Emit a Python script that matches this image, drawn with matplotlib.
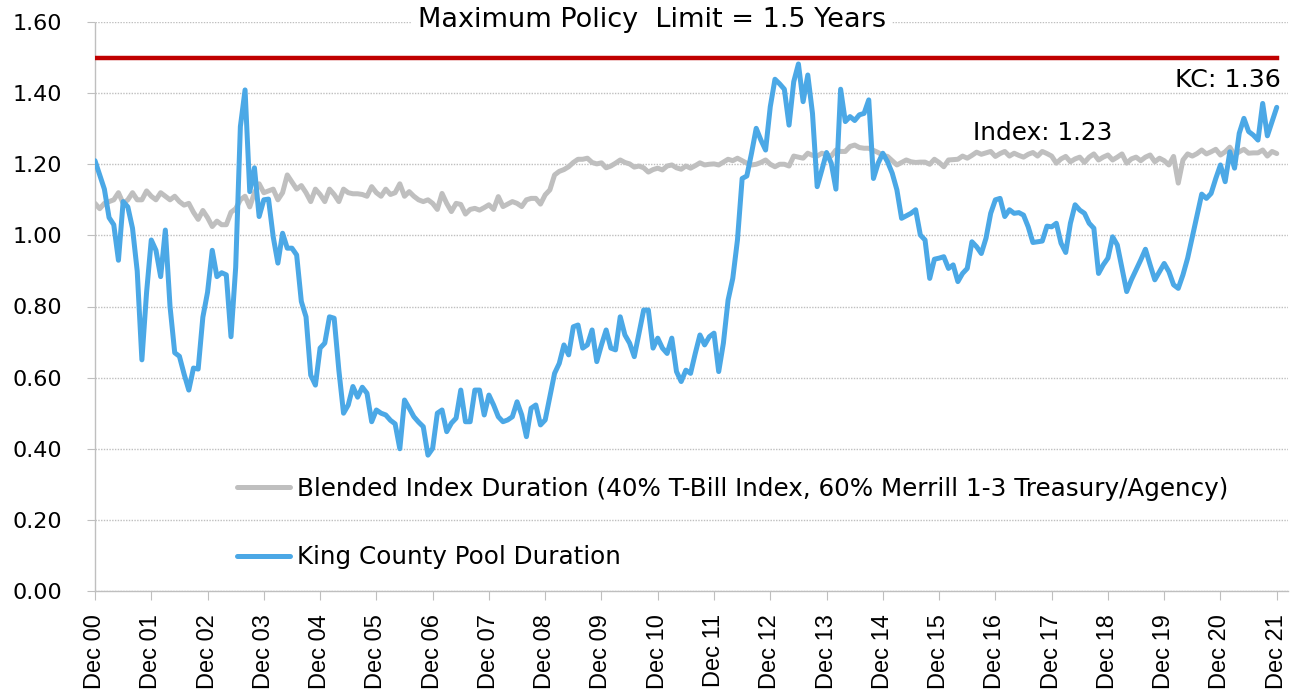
import matplotlib
matplotlib.use("Agg")
import matplotlib.pyplot as plt
import numpy as np

# monthly durations, Dec 2000 .. Dec 2021
kc_pool = [
    1.21, 1.17, 1.13, 1.05, 1.03, 0.93, 1.095, 1.08, 1.02, 0.90, 0.65, 0.84,
    0.987, 0.958, 0.884, 1.015, 0.80, 0.67, 0.66, 0.61, 0.565, 0.627, 0.624, 0.77,
    0.84, 0.958, 0.884, 0.895, 0.889, 0.715, 0.91, 1.306, 1.409, 1.123, 1.19, 1.053,
    1.10, 1.102, 0.996, 0.922, 1.006, 0.964, 0.964, 0.945, 0.814, 0.771, 0.607, 0.579,
    0.683, 0.697, 0.771, 0.767, 0.621, 0.50, 0.523, 0.575, 0.545, 0.573, 0.556, 0.476,
    0.509, 0.50, 0.495, 0.48, 0.47, 0.40, 0.537, 0.514, 0.49, 0.475, 0.462, 0.382,
    0.401, 0.50, 0.509, 0.448, 0.472, 0.486, 0.565, 0.476, 0.476, 0.565, 0.565, 0.495,
    0.551, 0.523, 0.49, 0.476, 0.481, 0.49, 0.532, 0.495, 0.434, 0.514, 0.523, 0.467,
    0.481, 0.546, 0.612, 0.64, 0.692, 0.664, 0.743, 0.748, 0.683, 0.692, 0.734, 0.645,
    0.692, 0.734, 0.683, 0.678, 0.771, 0.72, 0.697, 0.659, 0.725, 0.79, 0.79, 0.683,
    0.711, 0.683, 0.668, 0.711, 0.617, 0.589, 0.621, 0.612, 0.668, 0.72, 0.692, 0.715,
    0.725, 0.617, 0.697, 0.818, 0.879, 0.987, 1.16, 1.167, 1.231, 1.301, 1.268, 1.24,
    1.362, 1.439, 1.426, 1.411, 1.31, 1.432, 1.482, 1.376, 1.451, 1.343, 1.137, 1.184,
    1.233, 1.203, 1.13, 1.411, 1.32, 1.334, 1.323, 1.339, 1.343, 1.381, 1.16, 1.203,
    1.231, 1.207, 1.175, 1.128, 1.048, 1.055, 1.062, 1.072, 1.001, 0.987, 0.879, 0.933,
    0.936, 0.94, 0.907, 0.917, 0.87, 0.893, 0.907, 0.982, 0.968, 0.949, 0.992, 1.062,
    1.10, 1.104, 1.053, 1.072, 1.062, 1.064, 1.057, 1.024, 0.98, 0.982, 0.984, 1.026,
    1.024, 1.034, 0.978, 0.952, 1.034, 1.086, 1.071, 1.062, 1.034, 1.02, 0.893, 0.917,
    0.936, 0.996, 0.973, 0.907, 0.842, 0.875, 0.903, 0.931, 0.961, 0.917, 0.875, 0.898,
    0.921, 0.898, 0.861, 0.851, 0.889, 0.936, 0.996, 1.057, 1.116, 1.104, 1.118, 1.16,
    1.198, 1.151, 1.235, 1.189, 1.287, 1.329, 1.292, 1.282, 1.268, 1.371, 1.28, 1.32,
    1.36,
]

blended_index = [
    1.09, 1.075, 1.09, 1.095, 1.10, 1.12, 1.09, 1.10, 1.12, 1.10, 1.10, 1.125,
    1.11, 1.10, 1.12, 1.11, 1.10, 1.11, 1.095, 1.085, 1.09, 1.065, 1.045, 1.07,
    1.05, 1.025, 1.04, 1.03, 1.03, 1.065, 1.075, 1.10, 1.11, 1.08, 1.12, 1.145,
    1.12, 1.125, 1.13, 1.10, 1.12, 1.17, 1.15, 1.13, 1.14, 1.12, 1.095, 1.13,
    1.115, 1.095, 1.13, 1.115, 1.095, 1.13, 1.12, 1.117, 1.117, 1.115, 1.11, 1.137,
    1.12, 1.11, 1.13, 1.115, 1.12, 1.145, 1.11, 1.123, 1.11, 1.10, 1.095, 1.10,
    1.09, 1.073, 1.118, 1.09, 1.067, 1.09, 1.087, 1.06, 1.073, 1.076, 1.071, 1.078,
    1.086, 1.073, 1.109, 1.081, 1.088, 1.095, 1.09, 1.081, 1.10, 1.104, 1.104, 1.088,
    1.114, 1.128, 1.17, 1.18, 1.185, 1.193, 1.205, 1.214, 1.214, 1.217, 1.205, 1.201,
    1.204, 1.19, 1.195, 1.203, 1.212, 1.205, 1.201, 1.192, 1.195, 1.19, 1.178, 1.185,
    1.189, 1.184, 1.195, 1.198, 1.19, 1.186, 1.195, 1.189, 1.196, 1.204, 1.198, 1.20,
    1.201, 1.198, 1.206, 1.214, 1.21, 1.217, 1.21, 1.203, 1.198, 1.20, 1.205, 1.212,
    1.20, 1.193, 1.20, 1.20, 1.195, 1.223, 1.22, 1.217, 1.231, 1.225, 1.223, 1.231,
    1.226, 1.223, 1.24, 1.236, 1.236, 1.25, 1.254, 1.247, 1.245, 1.245, 1.239, 1.233,
    1.225, 1.222, 1.21, 1.198, 1.205, 1.212, 1.207, 1.205, 1.206, 1.206, 1.20, 1.214,
    1.205, 1.193, 1.212, 1.213, 1.214, 1.223, 1.217, 1.225, 1.234, 1.228, 1.232, 1.236,
    1.222, 1.23, 1.236, 1.223, 1.231, 1.225, 1.22, 1.228, 1.233, 1.223, 1.236, 1.23,
    1.223, 1.203, 1.215, 1.222, 1.207, 1.215, 1.22, 1.205, 1.22, 1.229, 1.212, 1.22,
    1.226, 1.212, 1.22, 1.229, 1.203, 1.215, 1.22, 1.21, 1.22, 1.226, 1.207, 1.217,
    1.21, 1.198, 1.222, 1.147, 1.212, 1.229, 1.223, 1.23, 1.24, 1.229, 1.235, 1.242,
    1.226, 1.235, 1.248, 1.226, 1.235, 1.242, 1.231, 1.232, 1.232, 1.24, 1.223, 1.236,
    1.23,
]

years = ["00", "01", "02", "03", "04", "05", "06", "07", "08", "09", "10",
         "11", "12", "13", "14", "15", "16", "17", "18", "19", "20", "21"]
tick_labels = ["Dec " + y for y in years]
policy_limit = 1.5

months = np.arange(len(kc_pool))
grid_col = "#BFBFBF"

fig = plt.figure(figsize=(12.99, 6.99), dpi=100)
ax = fig.add_axes([95 / 1299, 1 - 591 / 699, 1193 / 1299, 569 / 699])

ax.plot(months, blended_index, color="#BFBFBF", lw=3.6, solid_capstyle="round",
        label="Blended Index Duration (40% T-Bill Index, 60% Merrill 1-3 Treasury/Agency)", zorder=3)
ax.plot(months, kc_pool, color="#4BA8E6", lw=3.6, solid_capstyle="round",
        label="King County Pool Duration", zorder=4)
ax.plot([0, months[-1]], [policy_limit, policy_limit], color="#C00000", lw=3.2, zorder=5)

ax.set_xlim(0, 254.4)
ax.set_ylim(0, 1.6)
ax.set_yticks(np.arange(0, 1.61, 0.2))
ax.set_yticklabels(["%.2f" % v for v in np.arange(0, 1.61, 0.2)], fontsize=16)
ax.set_xticks(months[::12])
ax.set_xticklabels(tick_labels, rotation=90, fontsize=17, family="Liberation Sans")

ax.grid(axis="y", color=grid_col, linestyle=(0, (1, 1)), lw=1)
ax.set_axisbelow(True)
for side in ["top", "right"]:
    ax.spines[side].set_visible(False)
for side in ["left", "bottom"]:
    ax.spines[side].set_color(grid_col)
    ax.spines[side].set_linestyle((0, (1, 1)))
    ax.spines[side].set_linewidth(1)
ax.tick_params(axis="y", length=5.8, color=grid_col, pad=18)
ax.tick_params(axis="x", length=6.5, color=grid_col, pad=10)

ax.text(118.8, 1.605, "Maximum Policy  Limit = 1.5 Years", fontsize=19.5, ha="center", va="center",
        bbox=dict(facecolor="white", edgecolor="none", pad=4), zorder=6)
ax.text(187.2, 1.288, "Index: 1.23", fontsize=17.8, ha="left", va="center", zorder=6)
ax.text(252.9, 1.437, "KC: 1.36", fontsize=18.2, ha="right", va="center", zorder=6)

ax.legend(loc="upper left", bbox_to_anchor=(237 / 1299, 1 - 477 / 699), bbox_transform=fig.transFigure,
          frameon=False, fontsize=17.7, handlelength=2.15, handletextpad=0.28, labelspacing=1.8,
          borderpad=0, borderaxespad=0)

fig.savefig("out.png", dpi=100)
